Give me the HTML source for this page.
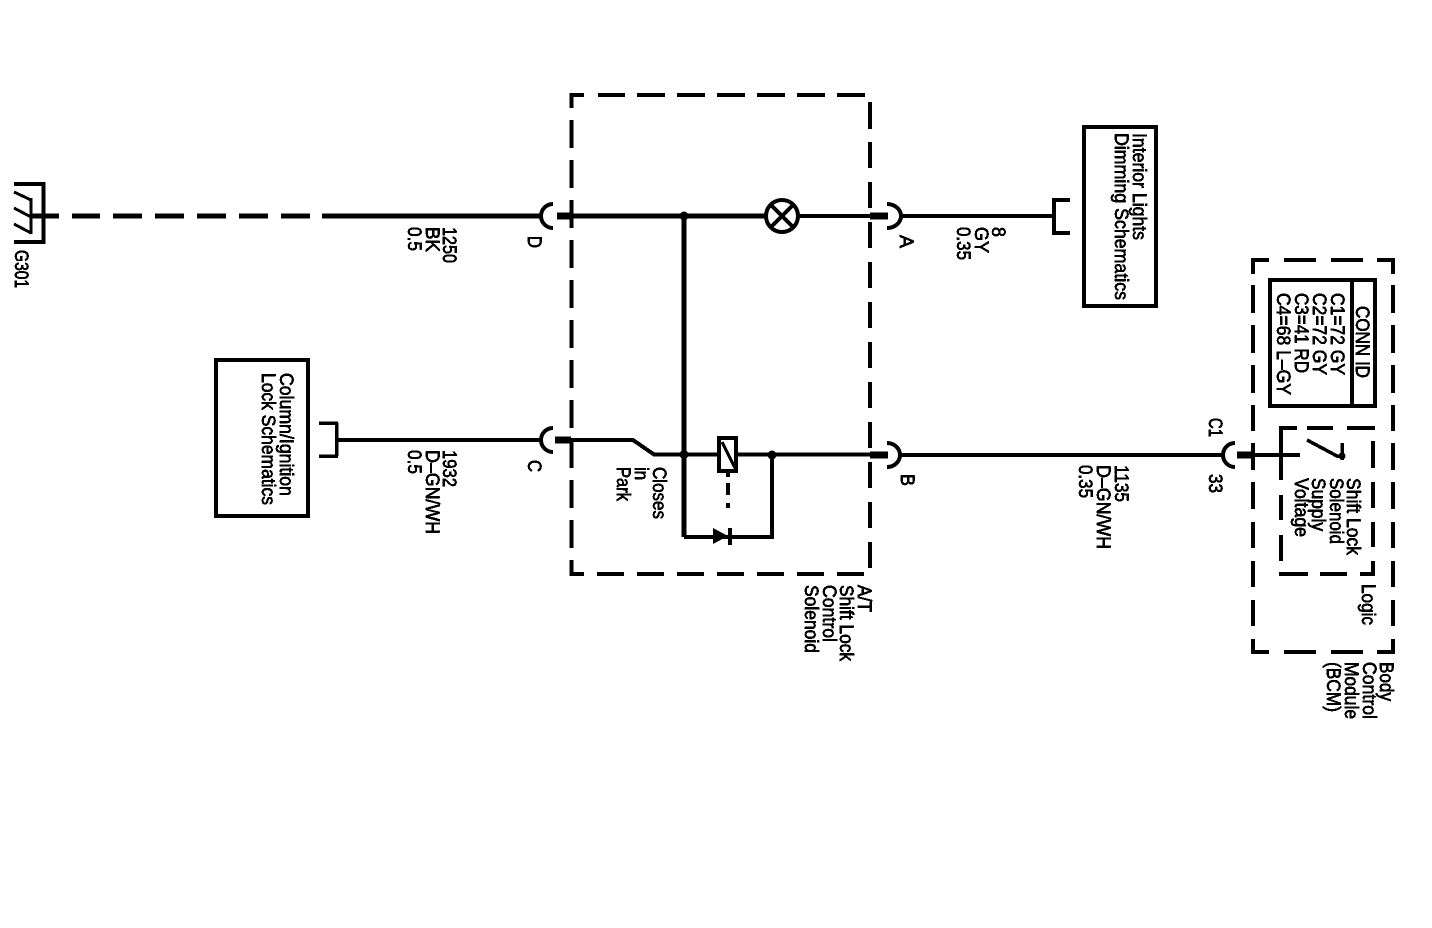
<!DOCTYPE html>
<html>
<head>
<meta charset="utf-8">
<style>
html,body{margin:0;padding:0;background:#fff;}
svg{display:block;}
text{font-family:"Liberation Sans",Arial,sans-serif;font-size:19px;fill:#000;stroke:#000;stroke-width:.55px;}
</style>
</head>
<body>
<svg width="1432" height="928" viewBox="0 0 1432 928" xmlns="http://www.w3.org/2000/svg" shape-rendering="crispEdges">
<defs>
<filter id="t" filterUnits="userSpaceOnUse" x="0" y="0" width="1432" height="928">
<feComponentTransfer><feFuncA type="discrete" tableValues="0 1 1"/></feComponentTransfer>
</filter>
</defs>
<rect width="1432" height="928" fill="#fff"/>

<g fill="none" stroke="#000" stroke-width="4">
<!-- A/T box -->
<path d="M584 95H571.5V108M598 95H625M637 95H665M677 95H705M717 95H745M757 95H785M797 95H825M837 95H865"/>
<path d="M870 102V129M870 142V168M870 182V208M870 222V248M870 262V288M870 302V328M870 342V368M870 382V408M870 422V448M870 462V488M870 502V528M870 542V568"/>
<path d="M571.5 120V148M571.5 160V188M571.5 200V228M571.5 240V268M571.5 280V308M571.5 320V348M571.5 360V388M571.5 400V428M571.5 440V468M571.5 480V508M571.5 520V548M571.5 560V574H584"/>
<path d="M597 574H624M637 574H664M677 574H704M717 574H744M757 574H784M797 574H824M837 574H864"/>

<!-- BCM box -->
<path d="M1269 260H1253V274M1284 260H1316M1331 260H1363M1377 260H1393V274"/>
<path d="M1253 285V313M1253 325V353M1253 365V393M1253 405V431M1253 443V470M1253 482V509M1253 522V548M1253 561V587M1253 600V626M1253 639V652H1269"/>
<path d="M1393 285V313M1393 325V353M1393 365V393M1393 405V431M1393 443V470M1393 482V509M1393 522V548M1393 561V587M1393 600V626M1393 639V652H1377"/>
<path d="M1284 652H1316M1331 652H1363"/>

<!-- Logic box -->
<path d="M1297 428H1281V480M1307 428H1333M1347 428H1375M1281 495V520M1281 535V561M1279 574H1308M1320 574H1347M1360 574H1373V561M1373 522V547M1373 482V508M1373 441V468"/>

<!-- Boxes -->
<rect x="1084" y="127" width="72" height="179"/>
<rect x="216" y="360" width="92" height="156"/>
<rect x="1270" y="280" width="105" height="126"/>
<path d="M1352 280V406"/>

<!-- G301 -->
<path d="M14 184H43.5V242H14"/>
<path d="M31 198V234M14 192L31 200M14 208L31 217M14 224L31 233" stroke-width="3"/>

<!-- D wire -->
<g stroke-width="5">
<path d="M30 216H59M72 216H100M113 216H142M155 216H184M197 216H226M239 216H268M281 216H310M322 216H541"/>
<path d="M557 216H766M684 216V537"/>
</g>
<path d="M798 216H870M902 216H1054M1054 200V233M1052 200H1070M1052 233H1070" stroke-width="4"/>

<!-- stubs -->
<g stroke-width="7">
<path d="M557 216H571M555 440H571M870 216H888M870 455H888M1237 455H1254"/>
</g>

<!-- connector arcs -->
<g shape-rendering="auto" stroke-width="4">
<path d="M553 204A12 12 0 0 0 553 228"/>
<path d="M553 428A12 12 0 0 0 553 452"/>
<path d="M887 204A14 12 0 0 1 887 228"/>
<path d="M887 443A13 12 0 0 1 887 467"/>
<path d="M1235 443A12 12 0 0 0 1235 467"/>
<circle cx="782" cy="216" r="16"/>
<path d="M771 205L793 227M793 205L771 227"/>
</g>

<!-- C wire -->
<path d="M338 440H542M571 440H633L654 454.5H870M900 455H1225M1254 455H1300" stroke-width="4"/>
<path d="M336.5 423V456M319 423H338M319 456H338" stroke-width="3.5"/>

<!-- coil and diode -->
<rect x="719" y="438" width="17" height="33" fill="#fff"/>
<path d="M722 442L735 468" stroke-width="3"/>
<path d="M728 473V477M728 483V495M728 503V508"/>
<path d="M684 537H772V455"/>
<path d="M730 528V545"/>

<!-- switch -->
<path d="M1307 440L1337 456H1342M1342 443V460" stroke-width="3.5"/>
</g>

<g fill="#000" shape-rendering="auto">
<circle cx="684" cy="216" r="4.5"/>
<circle cx="684" cy="454.5" r="4.5"/>
<circle cx="772" cy="455" r="4.5"/>
<circle cx="1342" cy="456" r="3.5"/>
<polygon points="713,528 713,544 728,536"/>
</g>

<g filter="url(#t)">
<text transform="translate(15,250) rotate(90)" textLength="38" lengthAdjust="spacingAndGlyphs">G301</text>

<text transform="translate(443,227) rotate(90)" textLength="36" lengthAdjust="spacingAndGlyphs">1250</text>
<text transform="translate(426,227) rotate(90)" textLength="25" lengthAdjust="spacingAndGlyphs">BK</text>
<text transform="translate(408,227) rotate(90)" textLength="24" lengthAdjust="spacingAndGlyphs">0.5</text>
<text transform="translate(528,236) rotate(90)" textLength="12" lengthAdjust="spacingAndGlyphs">D</text>

<text transform="translate(900,235) rotate(90)" textLength="13" lengthAdjust="spacingAndGlyphs">A</text>
<text transform="translate(992,227) rotate(90)" textLength="10" lengthAdjust="spacingAndGlyphs">8</text>
<text transform="translate(975,227) rotate(90)" textLength="26" lengthAdjust="spacingAndGlyphs">GY</text>
<text transform="translate(957,227) rotate(90)" textLength="33" lengthAdjust="spacingAndGlyphs">0.35</text>

<text transform="translate(1133,133) rotate(90)" textLength="107" lengthAdjust="spacingAndGlyphs">Interior Lights</text>
<text transform="translate(1115,133) rotate(90)" textLength="167" lengthAdjust="spacingAndGlyphs">Dimming Schematics</text>

<text transform="translate(280,373) rotate(90)" textLength="123" lengthAdjust="spacingAndGlyphs">Column/Ignition</text>
<text transform="translate(262,373) rotate(90)" textLength="132" lengthAdjust="spacingAndGlyphs">Lock Schematics</text>

<text transform="translate(528,460) rotate(90)" textLength="12" lengthAdjust="spacingAndGlyphs">C</text>
<text transform="translate(443,450) rotate(90)" textLength="37" lengthAdjust="spacingAndGlyphs">1932</text>
<text transform="translate(426,450) rotate(90)" textLength="84" lengthAdjust="spacingAndGlyphs">D–GN/WH</text>
<text transform="translate(408,450) rotate(90)" textLength="24" lengthAdjust="spacingAndGlyphs">0.5</text>

<text transform="translate(653,467) rotate(90)" textLength="52" lengthAdjust="spacingAndGlyphs">Closes</text>
<text transform="translate(635,467) rotate(90)" textLength="13" lengthAdjust="spacingAndGlyphs">in</text>
<text transform="translate(617,467) rotate(90)" textLength="34" lengthAdjust="spacingAndGlyphs">Park</text>

<text transform="translate(901,474) rotate(90)" textLength="12" lengthAdjust="spacingAndGlyphs">B</text>
<text transform="translate(1115,465) rotate(90)" textLength="37" lengthAdjust="spacingAndGlyphs">1135</text>
<text transform="translate(1097,465) rotate(90)" textLength="84" lengthAdjust="spacingAndGlyphs">D–GN/WH</text>
<text transform="translate(1079,465) rotate(90)" textLength="33" lengthAdjust="spacingAndGlyphs">0.35</text>

<text transform="translate(858,585) rotate(90)" textLength="27" lengthAdjust="spacingAndGlyphs">A/T</text>
<text transform="translate(840,585) rotate(90)" textLength="76" lengthAdjust="spacingAndGlyphs">Shift Lock</text>
<text transform="translate(823,585) rotate(90)" textLength="57" lengthAdjust="spacingAndGlyphs">Control</text>
<text transform="translate(805,585) rotate(90)" textLength="68" lengthAdjust="spacingAndGlyphs">Solenoid</text>

<text transform="translate(1356,306) rotate(90)" textLength="72" lengthAdjust="spacingAndGlyphs">CONN ID</text>
<text transform="translate(1331,293) rotate(90)" textLength="82" lengthAdjust="spacingAndGlyphs">C1=72 GY</text>
<text transform="translate(1313,293) rotate(90)" textLength="82" lengthAdjust="spacingAndGlyphs">C2=72 GY</text>
<text transform="translate(1295,293) rotate(90)" textLength="80" lengthAdjust="spacingAndGlyphs">C3=41 RD</text>
<text transform="translate(1277,293) rotate(90)" textLength="102" lengthAdjust="spacingAndGlyphs">C4=68 L–GY</text>

<text transform="translate(1209,418) rotate(90)" textLength="19" lengthAdjust="spacingAndGlyphs">C1</text>
<text transform="translate(1209,474) rotate(90)" textLength="19" lengthAdjust="spacingAndGlyphs">33</text>

<text transform="translate(1347,478) rotate(90)" textLength="77" lengthAdjust="spacingAndGlyphs">Shift Lock</text>
<text transform="translate(1330,478) rotate(90)" textLength="66" lengthAdjust="spacingAndGlyphs">Solenoid</text>
<text transform="translate(1312,478) rotate(90)" textLength="53" lengthAdjust="spacingAndGlyphs">Supply</text>
<text transform="translate(1295,478) rotate(90)" textLength="59" lengthAdjust="spacingAndGlyphs">Voltage</text>
<text transform="translate(1362,584) rotate(90)" textLength="41" lengthAdjust="spacingAndGlyphs">Logic</text>

<text transform="translate(1380,662) rotate(90)" textLength="39" lengthAdjust="spacingAndGlyphs">Body</text>
<text transform="translate(1363,662) rotate(90)" textLength="57" lengthAdjust="spacingAndGlyphs">Control</text>
<text transform="translate(1345,662) rotate(90)" textLength="57" lengthAdjust="spacingAndGlyphs">Module</text>
<text transform="translate(1327,662) rotate(90)" textLength="50" lengthAdjust="spacingAndGlyphs">(BCM)</text>
</g>
</svg>
</body>
</html>
